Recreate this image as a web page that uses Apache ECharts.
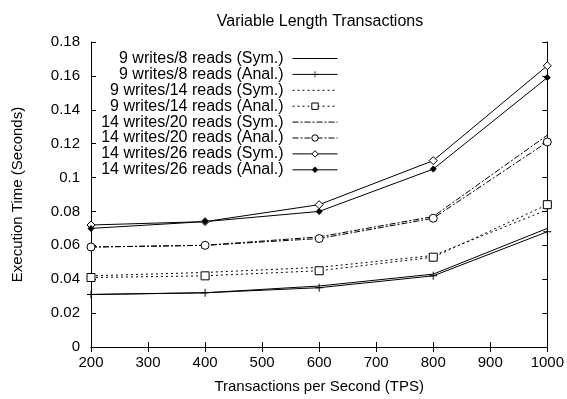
<!DOCTYPE html>
<html>
<head>
<meta charset="utf-8">
<script src="https://cdn.jsdelivr.net/npm/echarts@6/dist/echarts.min.js"></script>
<style>
html, body { margin: 0; padding: 0; background: #fff; }
#main { width: 567px; height: 399px; }
</style>
</head>
<body>
<div id="main"></div>
<script>
// x values (TPS)
var tps = [200, 400, 600, 800, 1000];

// execution times in seconds
var w9r8Sym = [0.031, 0.032, 0.036, 0.043, 0.070];
var w9r8Anal = [0.031, 0.032, 0.035, 0.042, 0.068];
var w9r14Sym = [0.042, 0.044, 0.047, 0.054, 0.081];
var w9r14Anal = [0.041, 0.042, 0.045, 0.053, 0.084];
var w14r20Sym = [0.059, 0.060, 0.065, 0.077, 0.125];
var w14r20Anal = [0.059, 0.060, 0.064, 0.076, 0.121];
var w14r26Sym = [0.072, 0.074, 0.084, 0.110, 0.166];
var w14r26Anal = [0.070, 0.074, 0.080, 0.105, 0.159];

var names = [
    '9 writes/8 reads (Sym.)', '9 writes/8 reads (Anal.)',
    '9 writes/14 reads (Sym.)', '9 writes/14 reads (Anal.)',
    '14 writes/20 reads (Sym.)', '14 writes/20 reads (Anal.)',
    '14 writes/26 reads (Sym.)', '14 writes/26 reads (Anal.)'
];
var values = [w9r8Sym, w9r8Anal, w9r14Sym, w9r14Anal, w14r20Sym, w14r20Anal, w14r26Sym, w14r26Anal];

var FONT = '"Liberation Sans", Arial, sans-serif';
var PLUS = 'path://M4.4,0H5.6V4.4H10V5.6H5.6V10H4.4V5.6H0V4.4H4.4Z';

// line dash + marker for each series
var dashes = ['solid', 'solid', [2, 3], [2, 3], [6, 2, 2, 2], [6, 2, 2, 2], 'solid', 'solid'];
var symbols = ['none', PLUS, 'none', 'rect', 'none', 'circle', 'diamond', 'diamond'];
var symSizes = [0, 8, 0, 8, 8, 8, 8, 7];
var fills = ['#000', '#000', '#000', '#fff', '#000', '#fff', '#fff', '#000'];

var series = names.map(function (n, i) {
    return {
        name: n,
        type: 'line',
        data: tps.map(function (t, j) { return [t, values[i][j]]; }),
        symbol: symbols[i],
        symbolSize: symSizes[i],
        showSymbol: symbols[i] !== 'none',
        lineStyle: { color: '#000', width: 1, type: dashes[i] },
        itemStyle: { color: fills[i], borderColor: '#000', borderWidth: (symbols[i] === PLUS || i === 7) ? 0 : 1 },
        emphasis: { disabled: true },
        animation: false,
        z: 3
    };
});

// one legend per entry so the keys line up on the right
var legends = names.map(function (n, i) {
    var bw = (symbols[i] === PLUS || i === 7) ? 0 : 1;
    return {
        data: [symbols[i] === 'none' ? { name: n, itemStyle: { opacity: 0 } } : n],
        right: 229,
        top: 50.5 + i * 15.9,
        align: 'right',
        itemWidth: 45,
        itemHeight: 8,
        itemGap: 0,
        padding: 0,
        selectedMode: false,
        lineStyle: { width: 1 },
        itemStyle: { borderWidth: bw },
        textStyle: { fontFamily: FONT, fontSize: 16, color: '#000', padding: [0, 4, 0, 0] }
    };
});

var chart = echarts.init(document.getElementById('main'));
chart.setOption({
    backgroundColor: '#fff',
    animation: false,
    title: {
        text: 'Variable Length Transactions',
        left: 315, top: 9, textAlign: 'center',
        textStyle: { fontFamily: FONT, fontSize: 16, fontWeight: 'normal', color: '#000' }
    },
    legend: legends,
    grid: { left: 91, right: 18, top: 42, bottom: 51, containLabel: false },
    xAxis: [{
        type: 'value', min: 200, max: 1000, interval: 100,
        name: 'Transactions per Second (TPS)',
        nameLocation: 'middle', nameGap: 32,
        nameTextStyle: { fontFamily: FONT, fontSize: 15, color: '#000' },
        axisLine: { lineStyle: { color: '#000', width: 1 } },
        axisTick: { inside: true, length: 5, lineStyle: { color: '#000' } },
        axisLabel: {
            fontFamily: FONT, fontSize: 15, color: '#000', margin: 8,
            formatter: function (v) { return String(v); }
        },
        splitLine: { show: false }
    }, {
        type: 'value', min: 200, max: 1000, interval: 100, position: 'top',
        axisLine: { lineStyle: { color: '#000', width: 1 } },
        axisTick: { inside: true, length: 5, lineStyle: { color: '#000' } },
        axisLabel: { show: false },
        splitLine: { show: false }
    }],
    yAxis: [{
        type: 'value', min: 0, max: 0.18, interval: 0.02,
        name: 'Execution Time (Seconds)',
        nameLocation: 'middle', nameGap: 66,
        nameTextStyle: { fontFamily: FONT, fontSize: 15, color: '#000' },
        axisLine: { show: true, lineStyle: { color: '#000', width: 1 } },
        axisTick: { show: true, inside: true, length: 5, lineStyle: { color: '#000' } },
        axisLabel: {
            fontFamily: FONT, fontSize: 15, color: '#000', margin: 11,
            formatter: function (v) { return String(parseFloat(v.toFixed(2))); }
        },
        splitLine: { show: false }
    }, {
        type: 'value', min: 0, max: 0.18, interval: 0.02, position: 'right',
        axisLine: { show: true, lineStyle: { color: '#000', width: 1 } },
        axisTick: { show: true, inside: true, length: 5, lineStyle: { color: '#000' } },
        axisLabel: { show: false },
        splitLine: { show: false }
    }],
    series: series
});
</script>
</body>
</html>
